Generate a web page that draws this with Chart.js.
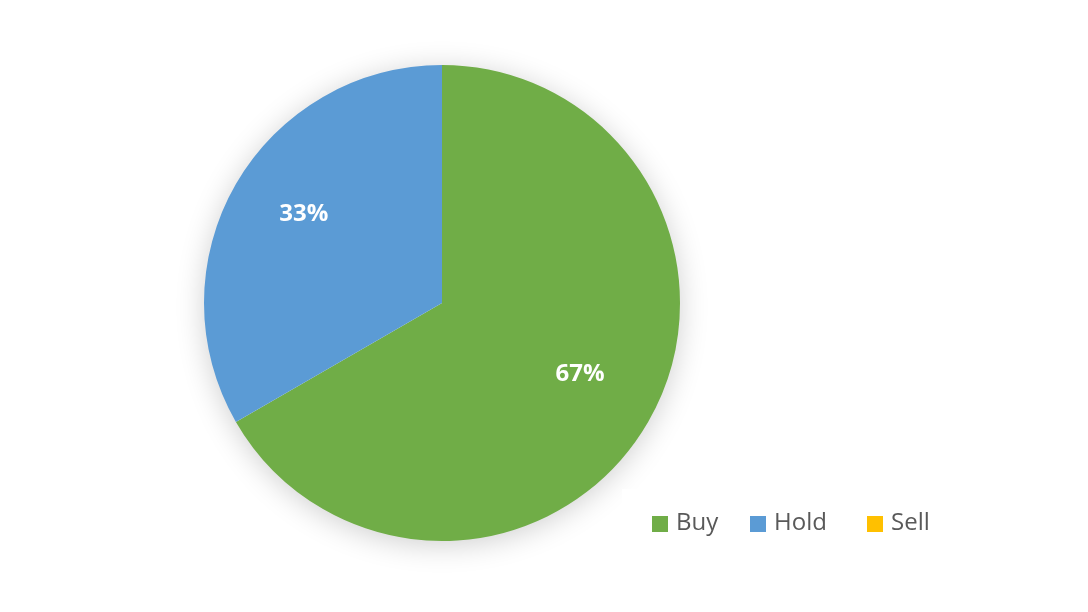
<!DOCTYPE html>
<html>
<head>
<meta charset="utf-8">
<script src="https://cdn.jsdelivr.net/npm/chart.js@4.4.0/dist/chart.umd.min.js"></script>
<style>
  html, body { margin: 0; padding: 0; background: #ffffff; }
  #wrap { width: 1088px; height: 612px; position: relative; }
</style>
</head>
<body>
<div id="wrap"><canvas id="ratingChart"></canvas></div>
<script>
// Analyst ratings
const ratingLabels = ['Buy', 'Hold', 'Sell'];
const ratingCounts = [2, 1, 0];
const ratingColors = ['#70AD47', '#5B9BD5', '#FFC000'];

const FONT = '"Open Sans", "Noto Sans", sans-serif';

// soft shadow under the whole pie (one disc, so slices don't shade each other)
const shadowPlugin = {
    id: 'pieShadow',
    beforeDatasetsDraw(chart) {
        const arc = chart.getDatasetMeta(0).data[0];
        if (!arc) return;
        const p = arc.getProps(['x', 'y', 'outerRadius'], true);
        const ctx = chart.ctx;
        ctx.save();
        ctx.shadowColor = 'rgba(0, 0, 0, 0.2)';
        ctx.shadowBlur = 30;
        ctx.shadowOffsetX = 0;
        ctx.shadowOffsetY = 4;
        ctx.fillStyle = '#ffffff';
        ctx.beginPath();
        ctx.arc(p.x, p.y, p.outerRadius - 1, 0, Math.PI * 2);
        ctx.fill();
        ctx.restore();
    }
};

// percentage labels inside the slices
const percentPlugin = {
    id: 'percentLabels',
    afterDatasetsDraw(chart) {
        const ctx = chart.ctx;
        const data = chart.data.datasets[0].data;
        const total = data.reduce((a, b) => a + b, 0);
        const meta = chart.getDatasetMeta(0);
        ctx.save();
        ctx.fillStyle = '#ffffff';
        ctx.font = 'bold 24px ' + FONT;
        ctx.textAlign = 'center';
        ctx.textBaseline = 'middle';
        meta.data.forEach((arc, i) => {
            if (!data[i]) return;
            const p = arc.getProps(['x', 'y', 'startAngle', 'endAngle', 'outerRadius'], true);
            const mid = (p.startAngle + p.endAngle) / 2;
            const r = p.outerRadius * 0.67;
            const pct = Math.round(data[i] / total * 100) + '%';
            ctx.fillText(pct, p.x + Math.cos(mid) * r, p.y + Math.sin(mid) * r - 9);
        });
        ctx.restore();
    }
};

// legend box at bottom right
const legendPlugin = {
    id: 'boxLegend',
    afterDraw(chart) {
        const ctx = chart.ctx;
        ctx.save();
        ctx.fillStyle = '#ffffff';
        ctx.fillRect(622, 489, 340, 80);
        const itemX = [652, 750, 867];
        ctx.font = '24px ' + FONT;
        ctx.textBaseline = 'middle';
        ratingLabels.forEach((label, i) => {
            ctx.fillStyle = ratingColors[i];
            ctx.fillRect(itemX[i], 516, 16, 16);
            ctx.fillStyle = '#595959';
            ctx.fillText(label, itemX[i] + 24, 523);
        });
        ctx.restore();
    }
};

const ratingCtx = document.getElementById('ratingChart').getContext('2d');
const ratingChart = new Chart(ratingCtx, {
    type: 'pie',
    data: {
        labels: ratingLabels,
        datasets: [{
            data: ratingCounts,
            backgroundColor: ratingColors,
            borderWidth: 0
        }]
    },
    options: {
        responsive: true,
        maintainAspectRatio: false,
        animation: false,
        layout: {
            padding: { left: 204, right: 408, top: 65, bottom: 71 }
        },
        plugins: {
            legend: { display: false },
            tooltip: { enabled: false }
        }
    },
    plugins: [shadowPlugin, percentPlugin, legendPlugin]
});
</script>
</body>
</html>
